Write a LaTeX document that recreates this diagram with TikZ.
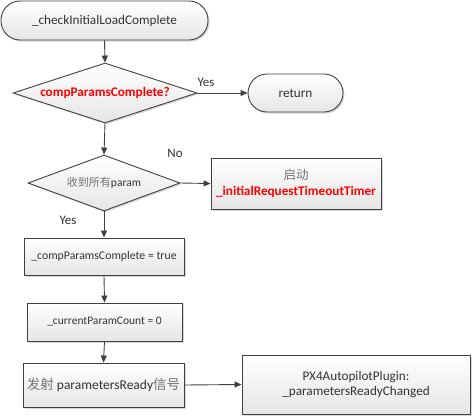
\documentclass[tikz,border=0pt]{standalone}
\usepackage{fontspec}
\setmainfont{Carlito}
\newfontfamily\cjk{Noto Sans CJK SC}
\usetikzlibrary{shapes.geometric,shadows,arrows.meta}
\definecolor{txt}{HTML}{333333}
\definecolor{ln}{HTML}{404040}
\definecolor{redtxt}{HTML}{FF0000}
\tikzset{
  base/.style={draw=ln, line width=0.9pt, top color=white, bottom color=gray!20,
    drop shadow={shadow xshift=1.5pt, shadow yshift=-1.5pt, fill=gray!60, opacity=0.5},
    text=txt, font=\fontsize{13.2}{15.5}\selectfont, align=center, inner sep=0pt},
  term/.style={base, rectangle, rounded corners=19pt},
  proc/.style={base, rectangle},
  dec/.style={base, diamond, shape aspect=3},
  conn/.style={draw=ln, line width=0.9pt, -{Triangle[length=7pt,width=6pt]}},
  lbl/.style={text=txt, font=\fontsize{13}{15}\selectfont, inner sep=0pt}
}
\begin{document}
\begin{tikzpicture}[x=1pt,y=-1pt]
\useasboundingbox (0,0) rectangle (474,418);
\node[term, minimum width=207pt, minimum height=39pt] (start) at (104.5,20.5) {\_checkInitialLoadComplete};
\node[dec, minimum width=184pt, minimum height=60pt] (d1) at (105,93) {\textcolor{redtxt}{\bfseries compParamsComplete?}};
\node[term, minimum width=95pt, minimum height=38pt] (ret) at (295.5,93) {return};
\node[dec, minimum width=152pt, minimum height=56pt, font=\fontsize{11.5}{13}\selectfont] (d2) at (104,183) {{\cjk\color{gray!90!black}\fontsize{11}{13}\selectfont 收到所有}param};
\node[proc, minimum width=170pt, minimum height=51pt] (timer) at (296,183.5) {{\cjk\color{gray!90!black}\fontsize{12.5}{14}\selectfont 启动}\\[1pt]\textcolor{redtxt}{\bfseries \_initialRequestTimeoutTimer}};
\node[proc, minimum width=160pt, minimum height=37pt, font=\fontsize{11.8}{13}\selectfont] (b1) at (104,256.5) {\_compParamsComplete = true};
\node[proc, minimum width=155pt, minimum height=38pt, font=\fontsize{11.5}{13}\selectfont] (b2) at (104.5,322) {\_currentParamCount = 0};
\node[proc, minimum width=161pt, minimum height=44pt, font=\fontsize{13.5}{15}\selectfont] (b3) at (103.5,385) {{\cjk\color{gray!90!black}发射} parametersReady{\cjk\color{gray!90!black}信号}};
\node[proc, minimum width=228pt, minimum height=59pt] (px4) at (356,384.5) {PX4AutopilotPlugin:\\\_parametersReadyChanged};
\draw[conn] (start.south) -- (d1.north);
\draw[conn] (d1.east) -- (ret.west);
\draw[conn] (d1.south) -- (d2.north);
\draw[conn] (d2.east) -- (timer.west);
\draw[conn] (d2.south) -- (b1.north);
\draw[conn] (b1.south) -- (b2.north);
\draw[conn] (b2.south) -- (b3.north);
\draw[conn] (b3.east) -- (px4.west);
\node[lbl] (yes1) at (206,82) {Yes};
\node[lbl] (no) at (175,153) {No};
\node[lbl] (yes2) at (68,220) {Yes};
\end{tikzpicture}
\end{document}
